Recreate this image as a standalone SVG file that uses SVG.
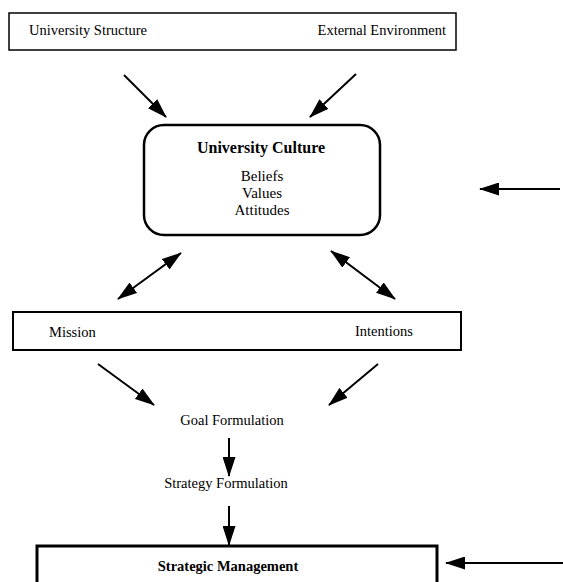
<svg xmlns="http://www.w3.org/2000/svg" width="563" height="582" viewBox="0 0 563 582">
<style>
text{font-family:"Liberation Serif","Times New Roman",serif;font-size:14.5px;fill:#000}
.b{font-weight:bold}
.m{font-size:15px}
.t{font-size:16px}
.box{fill:#fff;stroke:#000}
.c line{stroke:#000;stroke-width:2}
</style>
<defs>
<marker id="ah" viewBox="0 0 20 13" refX="19" refY="6.5" markerWidth="20" markerHeight="13" markerUnits="userSpaceOnUse" orient="auto-start-reverse">
<path d="M0,0 L20,6.5 L0,13 Z" fill="#000"/>
</marker>
</defs>
<rect width="563" height="582" fill="#fff"/>
<g id="top">
<rect class="box" x="9" y="13" width="447" height="37" stroke-width="1.5"/>
<text x="29" y="35">University Structure</text>
<text x="446" y="35" text-anchor="end">External Environment</text>
</g>
<g id="culture">
<rect class="box" x="144" y="125" width="236" height="110" rx="20" stroke-width="2.5"/>
<text class="b t" x="261" y="153" text-anchor="middle">University Culture</text>
<text class="m" x="262" y="181" text-anchor="middle">Beliefs</text>
<text class="m" x="262" y="198" text-anchor="middle">Values</text>
<text class="m" x="262" y="215" text-anchor="middle">Attitudes</text>
</g>
<g id="mission">
<rect class="box" x="13" y="312" width="448" height="38" stroke-width="2"/>
<text x="49" y="337">Mission</text>
<text x="355" y="336">Intentions</text>
</g>
<g id="goal"><text x="232" y="425" text-anchor="middle">Goal Formulation</text></g>
<g id="strategy"><text x="226" y="488" text-anchor="middle">Strategy Formulation</text></g>
<g id="management">
<rect class="box" x="37" y="546" width="400" height="50" stroke-width="3"/>
<text class="b" x="228" y="571" text-anchor="middle">Strategic Management</text>
</g>
<g id="connectors" class="c">
<line x1="124" y1="75" x2="166" y2="117" stroke-width="2.5" marker-end="url(#ah)"/>
<line x1="356" y1="74" x2="310" y2="117" stroke-width="2.5" marker-end="url(#ah)"/>
<line x1="560" y1="189" x2="480" y2="189" stroke-width="1.5" marker-end="url(#ah)"/>
<line x1="181" y1="253" x2="118" y2="299" marker-start="url(#ah)" marker-end="url(#ah)"/>
<line x1="331" y1="251" x2="395" y2="299" marker-start="url(#ah)" marker-end="url(#ah)"/>
<line x1="98" y1="364" x2="154" y2="405" stroke-width="1.5" marker-end="url(#ah)"/>
<line x1="378" y1="364" x2="329" y2="405" stroke-width="1.5" marker-end="url(#ah)"/>
<line x1="229" y1="438" x2="229" y2="476" stroke-width="1.5" marker-end="url(#ah)"/>
<line x1="229" y1="506" x2="229" y2="545" stroke-width="1.5" marker-end="url(#ah)"/>
<line x1="563" y1="563" x2="446" y2="563" stroke-width="1.5" marker-end="url(#ah)"/>
</g>
</svg>
